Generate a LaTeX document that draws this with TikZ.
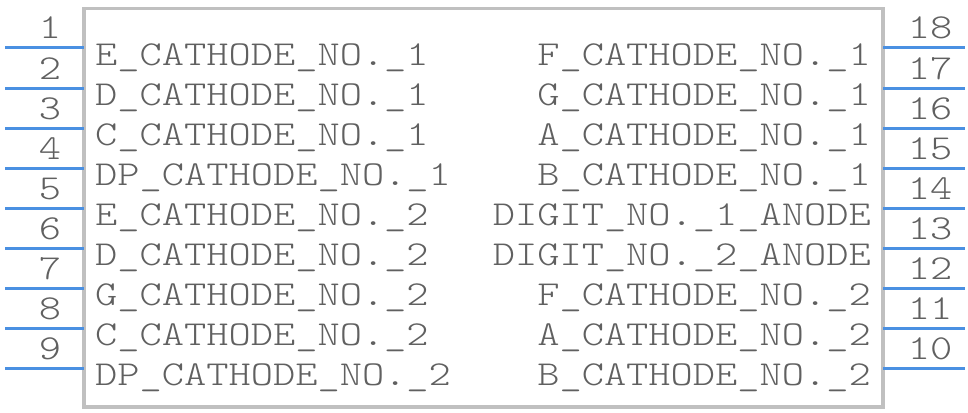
\documentclass[tikz,border=0pt]{standalone}
\usepackage{fontspec}
\newfontfamily\pinfont[FakeStretch=1.21]{lmmonolt10-regular.otf}
\definecolor{pinblue}{HTML}{4A90E2}
\definecolor{boxgray}{HTML}{C0C0C0}
\definecolor{txtgray}{HTML}{606060}
\tikzset{
  pinline/.style={draw=pinblue,line width=3pt},
  bodybox/.style={draw=boxgray,line width=3.5pt},
  lbl/.style={inner sep=0pt,text=txtgray,font=\pinfont\fontsize{35}{42}\selectfont},
  lleft/.style={lbl,anchor=base west},
  lright/.style={lbl,anchor=base east},
  pnum/.style={lbl,anchor=base},
}
\begin{document}
\begin{tikzpicture}[x=1pt,y=-1pt]
\useasboundingbox (0,0) rectangle (968,412);
\draw[bodybox] (84,8.5) rectangle (883,407);
% left side
\foreach \n/\t [count=\i from 0] in {1/E\_CATHODE\_NO.\_1,2/D\_CATHODE\_NO.\_1,3/C\_CATHODE\_NO.\_1,4/DP\_CATHODE\_NO.\_1,5/E\_CATHODE\_NO.\_2,6/D\_CATHODE\_NO.\_2,7/G\_CATHODE\_NO.\_2,8/C\_CATHODE\_NO.\_2,9/DP\_CATHODE\_NO.\_2}{
  \coordinate (pl\n a) at (5,48+40*\i);
  \coordinate (pl\n b) at (84,48+40*\i);
  \draw[pinline] (pl\n a) -- (pl\n b);
  \node[pnum] (nl\n) at (50,39+40*\i) {\n};
  \node[lleft] (tl\n) at (95,65+40*\i) {\t};
}
% right side
\foreach \n/\t [count=\i from 0] in {18/F\_CATHODE\_NO.\_1,17/G\_CATHODE\_NO.\_1,16/A\_CATHODE\_NO.\_1,15/B\_CATHODE\_NO.\_1,14/DIGIT\_NO.\_1\_ANODE,13/DIGIT\_NO.\_2\_ANODE,12/F\_CATHODE\_NO.\_2,11/A\_CATHODE\_NO.\_2,10/B\_CATHODE\_NO.\_2}{
  \coordinate (pr\n a) at (883,48+40*\i);
  \coordinate (pr\n b) at (965,48+40*\i);
  \draw[pinline] (pr\n a) -- (pr\n b);
  \node[pnum] (nr\n) at (930,39+40*\i) {\n};
  \node[lright] (tr\n) at (871,65+40*\i) {\t};
}
\end{tikzpicture}
\end{document}
